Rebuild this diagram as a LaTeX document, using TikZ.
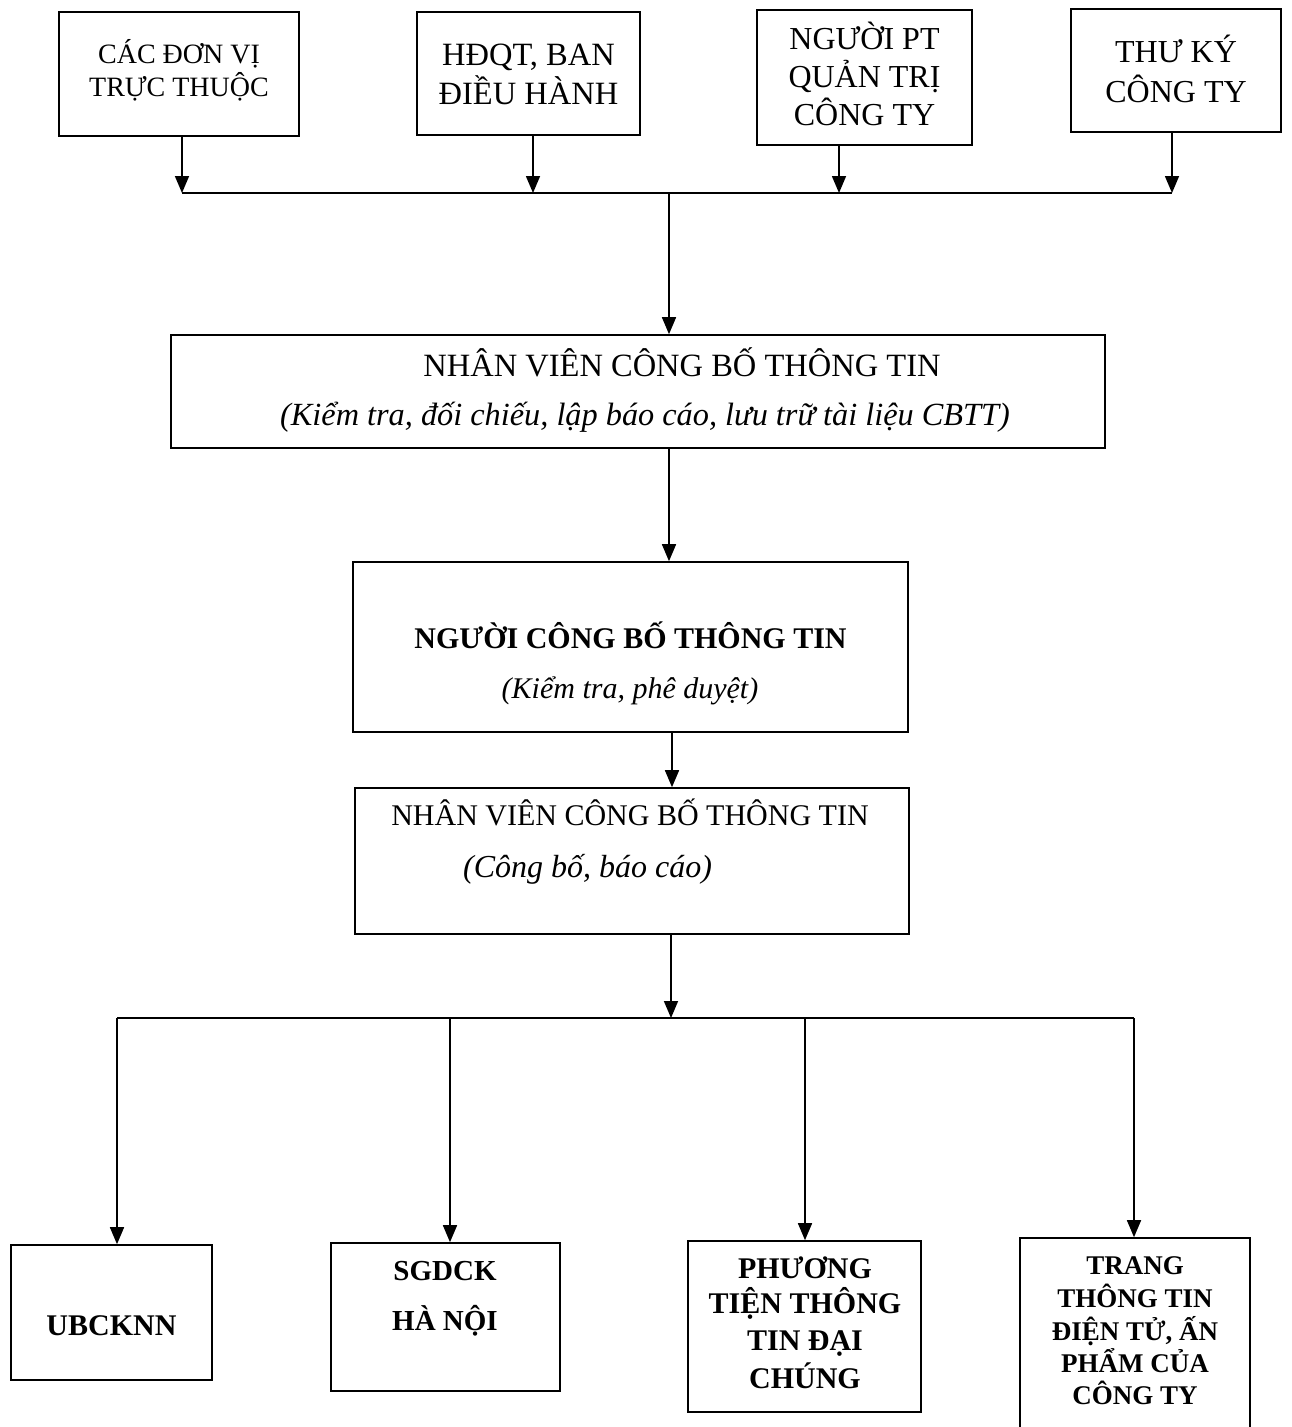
\documentclass[tikz,border=0pt]{standalone}
\usepackage{fontspec}
\setmainfont{Liberation Serif}
\usetikzlibrary{arrows.meta}
\begin{document}
\begin{tikzpicture}[x=1pt,y=-1pt,
  box/.style={draw, line width=1.6pt, inner sep=0pt, fill=white},
  ln/.style={inner sep=0pt, anchor=base},
  arr/.style={line width=1.6pt, -{Triangle[width=14pt,length=17pt]}},
  wire/.style={line width=1.6pt},
  fA/.style={font=\fontsize{28}{30}\selectfont},
  fB/.style={font=\fontsize{32.5}{34}\selectfont},
  fBb/.style={font=\fontsize{32}{34}\selectfont},
  fN/.style={font=\fontsize{32.5}{34}\selectfont},
  fNi/.style={font=\fontsize{32.3}{34}\selectfont\itshape},
  fC/.style={font=\fontsize{30}{32}\selectfont},
  fI/.style={font=\fontsize{30}{32}\selectfont\itshape},
  fIb/.style={font=\fontsize{32}{34}\selectfont\itshape},
  fBd/.style={font=\fontsize{30}{32}\selectfont\bfseries},
  fBm/.style={font=\fontsize{29}{31}\selectfont\bfseries},
  fBs/.style={font=\fontsize{27}{29}\selectfont\bfseries},
]
\useasboundingbox (0,0) rectangle (1291,1427);

% ---------- top boxes ----------
\node[box, minimum width=240pt, minimum height=124pt] (b1) at (179,74) {};
\node[ln, fA] (b1a) at (179,63) {CÁC ĐƠN VỊ};
\node[ln, fA] (b1b) at (179,96) {TRỰC THUỘC};

\node[box, minimum width=223pt, minimum height=123pt] (b2) at (528.5,73.5) {};
\node[ln, fB] (b2a) at (528.5,65) {HĐQT, BAN};
\node[ln, fB] (b2b) at (528.5,104) {ĐIỀU HÀNH};

\node[box, minimum width=215pt, minimum height=135pt] (b3) at (864.5,77.5) {};
\node[ln, fBb] (b3a) at (864.5,49) {NGƯỜI PT};
\node[ln, fBb] (b3b) at (864.5,87) {QUẢN TRỊ};
\node[ln, fBb] (b3c) at (864.5,125) {CÔNG TY};

\node[box, minimum width=210pt, minimum height=123pt] (b4) at (1176,70.5) {};
\node[ln, fBb] (b4a) at (1176,62) {THƯ KÝ};
\node[ln, fBb] (b4b) at (1176,102) {CÔNG TY};

% ---------- junction 1 ----------
\coordinate (j1) at (669,193);
\coordinate (t1) at (182,193);
\coordinate (t2) at (533,193);
\coordinate (t3) at (839,193);
\coordinate (t4) at (1172,193);
\draw[arr] (t1 |- b1.south) -- (t1);
\draw[arr] (t2 |- b2.south) -- (t2);
\draw[arr] (t3 |- b3.south) -- (t3);
\draw[arr] (t4 |- b4.south) -- (t4);
\draw[wire] (t1) -- (t4);

% ---------- NV1 ----------
\node[box, minimum width=934pt, minimum height=113pt] (nv1) at (638,391.5) {};
\node[ln, fN] (nv1a) at (682,376) {NHÂN VIÊN CÔNG BỐ THÔNG TIN};
\node[ln, fNi] (nv1b) at (645,425) {(Kiểm tra, đối chiếu, lập báo cáo, lưu trữ tài liệu CBTT)};
\draw[arr] (j1) -- (j1 |- nv1.north);

% ---------- NCB ----------
\node[box, minimum width=555pt, minimum height=170pt] (ncb) at (630.5,647) {};
\node[ln, fBd] (ncba) at (630.5,648) {NGƯỜI CÔNG BỐ THÔNG TIN};
\node[ln, fI] (ncbb) at (630,698) {(Kiểm tra, phê duyệt)};
\coordinate (c1) at (669,448);
\draw[arr] (c1) -- (c1 |- ncb.north);

% ---------- NV2 ----------
\node[box, minimum width=554pt, minimum height=146pt] (nv2) at (632,861) {};
\node[ln, fC] (nv2a) at (630,825) {NHÂN VIÊN CÔNG BỐ THÔNG TIN};
\node[ln, fIb, anchor=base west] (nv2b) at (463,877) {(Công bố, báo cáo)};
\coordinate (c2) at (672,732);
\draw[arr] (c2) -- (c2 |- nv2.north);

% ---------- junction 2 ----------
\coordinate (j2) at (671,1018);
\coordinate (c3) at (671,934);
\draw[arr] (c3) -- (j2);
\coordinate (d1) at (117,1018);
\coordinate (d2) at (450,1018);
\coordinate (d3) at (805,1018);
\coordinate (d4) at (1134,1018);
\draw[wire] (d1) -- (d4);

% ---------- bottom boxes ----------
\node[box, minimum width=201pt, minimum height=135pt] (ub) at (111.5,1312.5) {};
\node[ln, fBd] (uba) at (111.5,1335) {UBCKNN};

\node[box, minimum width=229pt, minimum height=148pt] (sg) at (445.5,1317) {};
\node[ln, fBm] (sga) at (445,1280) {SGDCK};
\node[ln, fBm] (sgb) at (445,1330) {HÀ NỘI};

\node[box, minimum width=233pt, minimum height=171pt] (ph) at (804.5,1326.5) {};
\node[ln, fBd] (pha) at (805,1278) {PHƯƠNG};
\node[ln, fBd] (phb) at (805,1313) {TIỆN THÔNG};
\node[ln, fBd] (phc) at (805,1350) {TIN ĐẠI};
\node[ln, fBd] (phd) at (805,1388) {CHÚNG};

\node[box, minimum width=230pt, minimum height=202pt] (tr) at (1135,1339) {};
\node[ln, fBs] (tra) at (1135,1274) {TRANG};
\node[ln, fBs] (trb) at (1135,1307) {THÔNG TIN};
\node[ln, fBs] (trc) at (1135,1340) {ĐIỆN TỬ, ẤN};
\node[ln, fBs] (trd) at (1135,1372) {PHẨM CỦA};
\node[ln, fBs] (tre) at (1135,1404) {CÔNG TY};

\draw[arr] (d1) -- (d1 |- ub.north);
\draw[arr] (d2) -- (d2 |- sg.north);
\draw[arr] (d3) -- (d3 |- ph.north);
\draw[arr] (d4) -- (d4 |- tr.north);
\end{tikzpicture}
\end{document}
